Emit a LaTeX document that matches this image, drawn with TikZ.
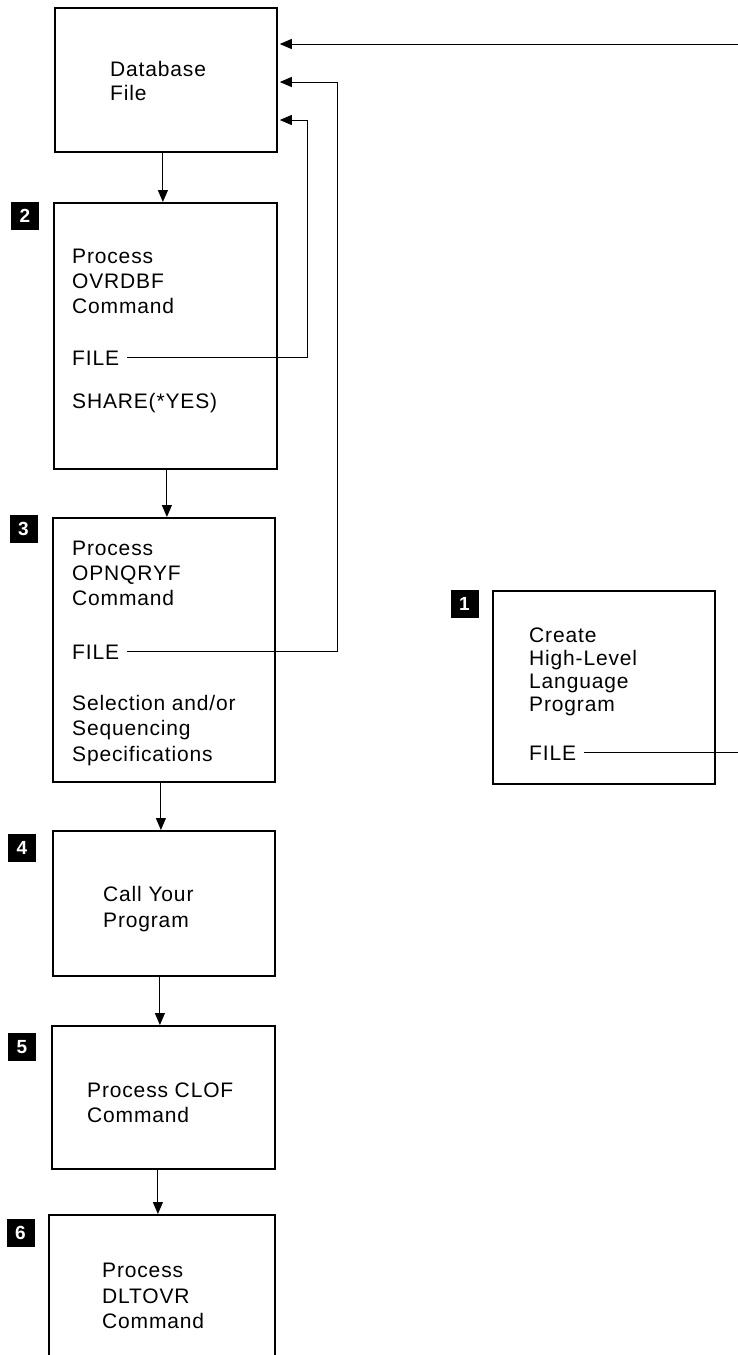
\documentclass[tikz,border=0pt]{standalone}
\usepackage{fontspec}
\setmainfont{Liberation Sans}[LetterSpace=4]
\usetikzlibrary{arrows.meta}
\begin{document}
\begin{tikzpicture}[x=1pt,y=-1pt,
  box/.style={draw, line width=1.8pt, inner sep=0pt, anchor=north west},
  conn/.style={line width=1pt},
  arr/.style={conn, -{Triangle[length=12pt,width=10pt]}},
  txt/.style={anchor=base west, inner sep=0pt, font=\fontsize{21}{25}\selectfont},
  badge/.style={fill=black, text=white, minimum size=28pt, inner sep=0pt,
                font=\fontsize{19}{19}\selectfont\bfseries}]
\useasboundingbox (0,0) rectangle (738,1355);
\clip (0,0) rectangle (738,1355);

% ---- boxes ----
\node[box, minimum width=222pt, minimum height=144pt] (db) at (54,7) {};
\node[box, minimum width=223pt, minimum height=266pt] (b2) at (53,202) {};
\node[box, minimum width=222pt, minimum height=264pt] (b3) at (52,517) {};
\node[box, minimum width=222pt, minimum height=145pt] (b4) at (52,830) {};
\node[box, minimum width=223pt, minimum height=143pt] (b5) at (51,1025) {};
\node[box, minimum width=226pt, minimum height=170pt] (b6) at (48,1214) {};
\node[box, minimum width=222pt, minimum height=193pt] (b1) at (492,590) {};

% ---- step badges ----
\node[badge] (n2) at (25,215.5) {2};
\node[badge] (n3) at (23.5,529) {3};
\node[badge] (n4) at (22,848) {4};
\node[badge] (n5) at (22,1047) {5};
\node[badge] (n6) at (20.5,1233) {6};
\node[badge] (n1) at (464.5,604) {1};

% ---- texts ----
\node[txt] (dbA) at (110,76) {Database};
\node[txt] (dbB) at (110,100) {File};

\node[txt] (t2a) at (72,263) {Process};
\node[txt] (t2b) at (72,288) {OVRDBF};
\node[txt] (t2c) at (72,313) {Command};
\node[txt] (f2)  at (72,365) {FILE};
\node[txt] (t2d) at (72,408) {SHARE(*YES)};

\node[txt] (t3a) at (72,555) {Process};
\node[txt] (t3b) at (72,580) {OPNQRYF};
\node[txt] (t3c) at (72,605) {Command};
\node[txt] (f3)  at (72,659) {FILE};
\node[txt] (t3d) at (72,710) {Selection and/or};
\node[txt] (t3e) at (72,735) {Sequencing};
\node[txt] (t3f) at (72,761) {Specifications};

\node[txt] (t4a) at (103,901) {Call Your};
\node[txt] (t4b) at (103,927) {Program};

\node[txt] (t5a) at (87,1097) {Process CLOF};
\node[txt] (t5b) at (87,1122) {Command};

\node[txt] (t6a) at (102,1277) {Process};
\node[txt] (t6b) at (102,1303) {DLTOVR};
\node[txt] (t6c) at (102,1328) {Command};

\node[txt] (t1a) at (529,642) {Create};
\node[txt] (t1b) at (529,665) {High-Level};
\node[txt] (t1c) at (529,688) {Language};
\node[txt] (t1d) at (529,711) {Program};
\node[txt] (f1)  at (529,760) {FILE};

% ---- flow down the left column ----
\draw[arr] ([xshift=-3pt]db.south) -- ([xshift=-3pt]db.south |- b2.north);
\draw[arr] ([xshift=1.5pt]b2.south) -- ([xshift=1.5pt]b2.south |- b3.north);
\draw[arr] ([xshift=-3pt]b3.south) -- ([xshift=-3pt]b3.south |- b4.north);
\draw[arr] ([xshift=-4pt]b4.south) -- ([xshift=-4pt]b4.south |- b5.north);
\draw[arr] ([xshift=-5.5pt]b5.south) -- ([xshift=-5.5pt]b5.south |- b6.north);

% ---- FILE references back to the database file ----
\coordinate (k2) at (307,120);
\coordinate (k3) at (337,82);
\coordinate (k1) at (745,44);
\draw[arr] ([xshift=8pt]f2.east) -| (k2) -- ([xshift=2pt]k2 -| db.east);
\draw[arr] ([xshift=8pt]f3.east) -| (k3) -- ([xshift=2pt]k3 -| db.east);
\draw[arr] ([xshift=8pt]f1.east) -| (k1) -- ([xshift=2pt]k1 -| db.east);
\end{tikzpicture}
\end{document}
